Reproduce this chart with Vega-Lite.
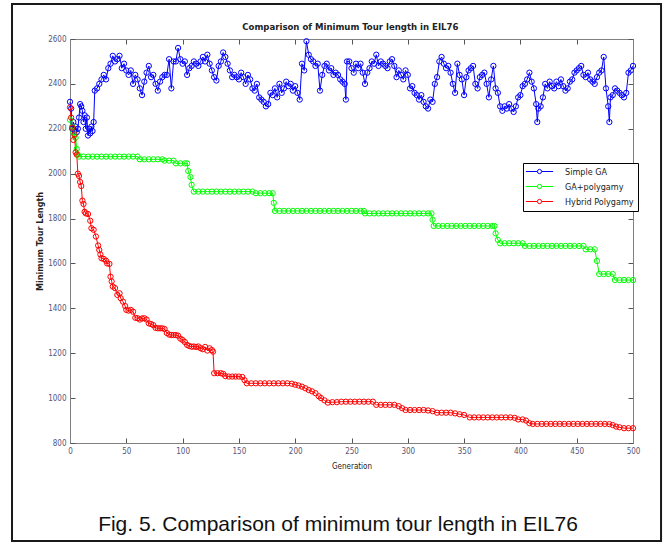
{
"$schema": "https://vega.github.io/schema/vega-lite/v6.json",
"width": 563, "height": 404,
"autosize": {"type": "none"},
"padding": {"left": 70, "top": 39, "right": 32, "bottom": 101},
"background": "white",
"config": {"view": {"stroke": "#808080", "strokeWidth": 1}},
"datasets": {
"tour": [
{"gen":0,"len":2320,"method":"Simple GA"},{"gen":1,"len":2290,"method":"Simple GA"},{"gen":2,"len":2200,"method":"Simple GA"},{"gen":3,"len":2230,"method":"Simple GA"},{"gen":4,"len":2190,"method":"Simple GA"},{"gen":5,"len":2210,"method":"Simple GA"},{"gen":6,"len":2185,"method":"Simple GA"},{"gen":7,"len":2200,"method":"Simple GA"},{"gen":8,"len":2250,"method":"Simple GA"},{"gen":9,"len":2310,"method":"Simple GA"},{"gen":10,"len":2300,"method":"Simple GA"},{"gen":11,"len":2280,"method":"Simple GA"},{"gen":12,"len":2230,"method":"Simple GA"},{"gen":13,"len":2260,"method":"Simple GA"},{"gen":14,"len":2200,"method":"Simple GA"},{"gen":15,"len":2250,"method":"Simple GA"},{"gen":16,"len":2170,"method":"Simple GA"},{"gen":17,"len":2200,"method":"Simple GA"},{"gen":18,"len":2180,"method":"Simple GA"},{"gen":19,"len":2210,"method":"Simple GA"},{"gen":20,"len":2190,"method":"Simple GA"},{"gen":21,"len":2230,"method":"Simple GA"},{"gen":22,"len":2370,"method":"Simple GA"},{"gen":24,"len":2380,"method":"Simple GA"},{"gen":26,"len":2400,"method":"Simple GA"},{"gen":28,"len":2420,"method":"Simple GA"},{"gen":30,"len":2440,"method":"Simple GA"},{"gen":32,"len":2420,"method":"Simple GA"},{"gen":34,"len":2470,"method":"Simple GA"},{"gen":36,"len":2490,"method":"Simple GA"},{"gen":38,"len":2525,"method":"Simple GA"},{"gen":40,"len":2500,"method":"Simple GA"},{"gen":42,"len":2510,"method":"Simple GA"},{"gen":44,"len":2525,"method":"Simple GA"},{"gen":46,"len":2470,"method":"Simple GA"},{"gen":48,"len":2490,"method":"Simple GA"},{"gen":50,"len":2460,"method":"Simple GA"},{"gen":52,"len":2440,"method":"Simple GA"},{"gen":54,"len":2460,"method":"Simple GA"},{"gen":56,"len":2400,"method":"Simple GA"},{"gen":58,"len":2440,"method":"Simple GA"},{"gen":60,"len":2420,"method":"Simple GA"},{"gen":62,"len":2380,"method":"Simple GA"},{"gen":64,"len":2350,"method":"Simple GA"},{"gen":66,"len":2410,"method":"Simple GA"},{"gen":68,"len":2450,"method":"Simple GA"},{"gen":70,"len":2480,"method":"Simple GA"},{"gen":72,"len":2430,"method":"Simple GA"},{"gen":74,"len":2440,"method":"Simple GA"},{"gen":76,"len":2400,"method":"Simple GA"},{"gen":78,"len":2370,"method":"Simple GA"},{"gen":80,"len":2410,"method":"Simple GA"},{"gen":82,"len":2430,"method":"Simple GA"},{"gen":84,"len":2440,"method":"Simple GA"},{"gen":86,"len":2440,"method":"Simple GA"},{"gen":88,"len":2510,"method":"Simple GA"},{"gen":90,"len":2380,"method":"Simple GA"},{"gen":92,"len":2500,"method":"Simple GA"},{"gen":94,"len":2500,"method":"Simple GA"},{"gen":96,"len":2560,"method":"Simple GA"},{"gen":98,"len":2510,"method":"Simple GA"},{"gen":100,"len":2490,"method":"Simple GA"},{"gen":102,"len":2500,"method":"Simple GA"},{"gen":104,"len":2440,"method":"Simple GA"},{"gen":106,"len":2470,"method":"Simple GA"},{"gen":108,"len":2480,"method":"Simple GA"},{"gen":110,"len":2500,"method":"Simple GA"},{"gen":112,"len":2490,"method":"Simple GA"},{"gen":114,"len":2480,"method":"Simple GA"},{"gen":116,"len":2500,"method":"Simple GA"},{"gen":118,"len":2520,"method":"Simple GA"},{"gen":120,"len":2500,"method":"Simple GA"},{"gen":122,"len":2530,"method":"Simple GA"},{"gen":124,"len":2490,"method":"Simple GA"},{"gen":126,"len":2460,"method":"Simple GA"},{"gen":128,"len":2430,"method":"Simple GA"},{"gen":130,"len":2415,"method":"Simple GA"},{"gen":132,"len":2480,"method":"Simple GA"},{"gen":134,"len":2500,"method":"Simple GA"},{"gen":136,"len":2540,"method":"Simple GA"},{"gen":138,"len":2520,"method":"Simple GA"},{"gen":140,"len":2490,"method":"Simple GA"},{"gen":142,"len":2460,"method":"Simple GA"},{"gen":144,"len":2430,"method":"Simple GA"},{"gen":146,"len":2440,"method":"Simple GA"},{"gen":148,"len":2430,"method":"Simple GA"},{"gen":150,"len":2420,"method":"Simple GA"},{"gen":152,"len":2450,"method":"Simple GA"},{"gen":154,"len":2430,"method":"Simple GA"},{"gen":156,"len":2400,"method":"Simple GA"},{"gen":158,"len":2440,"method":"Simple GA"},{"gen":160,"len":2420,"method":"Simple GA"},{"gen":162,"len":2380,"method":"Simple GA"},{"gen":164,"len":2370,"method":"Simple GA"},{"gen":166,"len":2400,"method":"Simple GA"},{"gen":168,"len":2340,"method":"Simple GA"},{"gen":170,"len":2330,"method":"Simple GA"},{"gen":172,"len":2320,"method":"Simple GA"},{"gen":174,"len":2300,"method":"Simple GA"},{"gen":176,"len":2310,"method":"Simple GA"},{"gen":178,"len":2360,"method":"Simple GA"},{"gen":180,"len":2350,"method":"Simple GA"},{"gen":182,"len":2380,"method":"Simple GA"},{"gen":184,"len":2340,"method":"Simple GA"},{"gen":186,"len":2400,"method":"Simple GA"},{"gen":188,"len":2360,"method":"Simple GA"},{"gen":190,"len":2380,"method":"Simple GA"},{"gen":192,"len":2410,"method":"Simple GA"},{"gen":194,"len":2390,"method":"Simple GA"},{"gen":196,"len":2400,"method":"Simple GA"},{"gen":198,"len":2370,"method":"Simple GA"},{"gen":200,"len":2390,"method":"Simple GA"},{"gen":202,"len":2360,"method":"Simple GA"},{"gen":204,"len":2330,"method":"Simple GA"},{"gen":206,"len":2490,"method":"Simple GA"},{"gen":208,"len":2460,"method":"Simple GA"},{"gen":210,"len":2590,"method":"Simple GA"},{"gen":212,"len":2530,"method":"Simple GA"},{"gen":214,"len":2510,"method":"Simple GA"},{"gen":216,"len":2500,"method":"Simple GA"},{"gen":218,"len":2480,"method":"Simple GA"},{"gen":220,"len":2490,"method":"Simple GA"},{"gen":222,"len":2370,"method":"Simple GA"},{"gen":224,"len":2440,"method":"Simple GA"},{"gen":226,"len":2480,"method":"Simple GA"},{"gen":228,"len":2490,"method":"Simple GA"},{"gen":230,"len":2460,"method":"Simple GA"},{"gen":232,"len":2470,"method":"Simple GA"},{"gen":234,"len":2440,"method":"Simple GA"},{"gen":236,"len":2450,"method":"Simple GA"},{"gen":238,"len":2440,"method":"Simple GA"},{"gen":240,"len":2420,"method":"Simple GA"},{"gen":242,"len":2410,"method":"Simple GA"},{"gen":244,"len":2400,"method":"Simple GA"},{"gen":245,"len":2330,"method":"Simple GA"},{"gen":246,"len":2500,"method":"Simple GA"},{"gen":248,"len":2500,"method":"Simple GA"},{"gen":250,"len":2470,"method":"Simple GA"},{"gen":252,"len":2450,"method":"Simple GA"},{"gen":254,"len":2490,"method":"Simple GA"},{"gen":256,"len":2470,"method":"Simple GA"},{"gen":258,"len":2490,"method":"Simple GA"},{"gen":260,"len":2450,"method":"Simple GA"},{"gen":262,"len":2400,"method":"Simple GA"},{"gen":264,"len":2450,"method":"Simple GA"},{"gen":266,"len":2470,"method":"Simple GA"},{"gen":268,"len":2500,"method":"Simple GA"},{"gen":270,"len":2490,"method":"Simple GA"},{"gen":272,"len":2530,"method":"Simple GA"},{"gen":274,"len":2480,"method":"Simple GA"},{"gen":276,"len":2500,"method":"Simple GA"},{"gen":278,"len":2490,"method":"Simple GA"},{"gen":280,"len":2480,"method":"Simple GA"},{"gen":282,"len":2470,"method":"Simple GA"},{"gen":284,"len":2500,"method":"Simple GA"},{"gen":286,"len":2510,"method":"Simple GA"},{"gen":288,"len":2480,"method":"Simple GA"},{"gen":290,"len":2430,"method":"Simple GA"},{"gen":292,"len":2460,"method":"Simple GA"},{"gen":294,"len":2440,"method":"Simple GA"},{"gen":296,"len":2420,"method":"Simple GA"},{"gen":298,"len":2460,"method":"Simple GA"},{"gen":300,"len":2440,"method":"Simple GA"},{"gen":302,"len":2380,"method":"Simple GA"},{"gen":304,"len":2390,"method":"Simple GA"},{"gen":306,"len":2360,"method":"Simple GA"},{"gen":308,"len":2350,"method":"Simple GA"},{"gen":310,"len":2330,"method":"Simple GA"},{"gen":312,"len":2350,"method":"Simple GA"},{"gen":314,"len":2320,"method":"Simple GA"},{"gen":316,"len":2300,"method":"Simple GA"},{"gen":318,"len":2290,"method":"Simple GA"},{"gen":320,"len":2330,"method":"Simple GA"},{"gen":322,"len":2320,"method":"Simple GA"},{"gen":324,"len":2400,"method":"Simple GA"},{"gen":326,"len":2430,"method":"Simple GA"},{"gen":328,"len":2500,"method":"Simple GA"},{"gen":330,"len":2520,"method":"Simple GA"},{"gen":332,"len":2490,"method":"Simple GA"},{"gen":334,"len":2470,"method":"Simple GA"},{"gen":336,"len":2480,"method":"Simple GA"},{"gen":338,"len":2450,"method":"Simple GA"},{"gen":340,"len":2400,"method":"Simple GA"},{"gen":342,"len":2360,"method":"Simple GA"},{"gen":344,"len":2490,"method":"Simple GA"},{"gen":346,"len":2440,"method":"Simple GA"},{"gen":348,"len":2420,"method":"Simple GA"},{"gen":350,"len":2350,"method":"Simple GA"},{"gen":352,"len":2430,"method":"Simple GA"},{"gen":354,"len":2460,"method":"Simple GA"},{"gen":356,"len":2470,"method":"Simple GA"},{"gen":358,"len":2480,"method":"Simple GA"},{"gen":360,"len":2400,"method":"Simple GA"},{"gen":362,"len":2380,"method":"Simple GA"},{"gen":364,"len":2430,"method":"Simple GA"},{"gen":366,"len":2440,"method":"Simple GA"},{"gen":368,"len":2450,"method":"Simple GA"},{"gen":370,"len":2400,"method":"Simple GA"},{"gen":372,"len":2340,"method":"Simple GA"},{"gen":374,"len":2420,"method":"Simple GA"},{"gen":376,"len":2480,"method":"Simple GA"},{"gen":378,"len":2380,"method":"Simple GA"},{"gen":380,"len":2360,"method":"Simple GA"},{"gen":382,"len":2300,"method":"Simple GA"},{"gen":384,"len":2280,"method":"Simple GA"},{"gen":386,"len":2300,"method":"Simple GA"},{"gen":388,"len":2290,"method":"Simple GA"},{"gen":390,"len":2310,"method":"Simple GA"},{"gen":392,"len":2290,"method":"Simple GA"},{"gen":394,"len":2275,"method":"Simple GA"},{"gen":396,"len":2300,"method":"Simple GA"},{"gen":398,"len":2340,"method":"Simple GA"},{"gen":400,"len":2350,"method":"Simple GA"},{"gen":402,"len":2390,"method":"Simple GA"},{"gen":404,"len":2400,"method":"Simple GA"},{"gen":406,"len":2420,"method":"Simple GA"},{"gen":408,"len":2450,"method":"Simple GA"},{"gen":410,"len":2410,"method":"Simple GA"},{"gen":412,"len":2380,"method":"Simple GA"},{"gen":414,"len":2310,"method":"Simple GA"},{"gen":415,"len":2230,"method":"Simple GA"},{"gen":416,"len":2290,"method":"Simple GA"},{"gen":418,"len":2300,"method":"Simple GA"},{"gen":420,"len":2340,"method":"Simple GA"},{"gen":422,"len":2400,"method":"Simple GA"},{"gen":424,"len":2380,"method":"Simple GA"},{"gen":426,"len":2410,"method":"Simple GA"},{"gen":428,"len":2390,"method":"Simple GA"},{"gen":430,"len":2380,"method":"Simple GA"},{"gen":432,"len":2410,"method":"Simple GA"},{"gen":434,"len":2390,"method":"Simple GA"},{"gen":436,"len":2420,"method":"Simple GA"},{"gen":438,"len":2390,"method":"Simple GA"},{"gen":440,"len":2370,"method":"Simple GA"},{"gen":442,"len":2380,"method":"Simple GA"},{"gen":444,"len":2410,"method":"Simple GA"},{"gen":446,"len":2420,"method":"Simple GA"},{"gen":448,"len":2450,"method":"Simple GA"},{"gen":450,"len":2460,"method":"Simple GA"},{"gen":452,"len":2470,"method":"Simple GA"},{"gen":454,"len":2480,"method":"Simple GA"},{"gen":456,"len":2440,"method":"Simple GA"},{"gen":458,"len":2430,"method":"Simple GA"},{"gen":460,"len":2450,"method":"Simple GA"},{"gen":462,"len":2420,"method":"Simple GA"},{"gen":464,"len":2410,"method":"Simple GA"},{"gen":466,"len":2400,"method":"Simple GA"},{"gen":468,"len":2430,"method":"Simple GA"},{"gen":470,"len":2450,"method":"Simple GA"},{"gen":472,"len":2460,"method":"Simple GA"},{"gen":474,"len":2520,"method":"Simple GA"},{"gen":476,"len":2380,"method":"Simple GA"},{"gen":478,"len":2300,"method":"Simple GA"},{"gen":479,"len":2230,"method":"Simple GA"},{"gen":480,"len":2340,"method":"Simple GA"},{"gen":482,"len":2350,"method":"Simple GA"},{"gen":484,"len":2380,"method":"Simple GA"},{"gen":486,"len":2370,"method":"Simple GA"},{"gen":488,"len":2360,"method":"Simple GA"},{"gen":490,"len":2350,"method":"Simple GA"},{"gen":492,"len":2340,"method":"Simple GA"},{"gen":494,"len":2360,"method":"Simple GA"},{"gen":496,"len":2450,"method":"Simple GA"},{"gen":498,"len":2460,"method":"Simple GA"},{"gen":500,"len":2480,"method":"Simple GA"},
{"gen":0,"len":2240,"method":"GA+polygamy"},{"gen":2,"len":2210,"method":"GA+polygamy"},{"gen":3,"len":2185,"method":"GA+polygamy"},{"gen":4,"len":2170,"method":"GA+polygamy"},{"gen":5,"len":2160,"method":"GA+polygamy"},{"gen":6,"len":2110,"method":"GA+polygamy"},{"gen":7,"len":2085,"method":"GA+polygamy"},{"gen":8,"len":2076,"method":"GA+polygamy"},{"gen":12,"len":2076,"method":"GA+polygamy"},{"gen":16,"len":2076,"method":"GA+polygamy"},{"gen":20,"len":2076,"method":"GA+polygamy"},{"gen":24,"len":2076,"method":"GA+polygamy"},{"gen":28,"len":2076,"method":"GA+polygamy"},{"gen":32,"len":2076,"method":"GA+polygamy"},{"gen":36,"len":2076,"method":"GA+polygamy"},{"gen":40,"len":2076,"method":"GA+polygamy"},{"gen":44,"len":2076,"method":"GA+polygamy"},{"gen":48,"len":2076,"method":"GA+polygamy"},{"gen":52,"len":2076,"method":"GA+polygamy"},{"gen":56,"len":2076,"method":"GA+polygamy"},{"gen":60,"len":2076,"method":"GA+polygamy"},{"gen":62,"len":2064,"method":"GA+polygamy"},{"gen":66,"len":2064,"method":"GA+polygamy"},{"gen":70,"len":2064,"method":"GA+polygamy"},{"gen":74,"len":2064,"method":"GA+polygamy"},{"gen":78,"len":2064,"method":"GA+polygamy"},{"gen":82,"len":2064,"method":"GA+polygamy"},{"gen":84,"len":2058,"method":"GA+polygamy"},{"gen":88,"len":2058,"method":"GA+polygamy"},{"gen":92,"len":2058,"method":"GA+polygamy"},{"gen":94,"len":2046,"method":"GA+polygamy"},{"gen":98,"len":2046,"method":"GA+polygamy"},{"gen":102,"len":2046,"method":"GA+polygamy"},{"gen":104,"len":2046,"method":"GA+polygamy"},{"gen":105,"len":2012,"method":"GA+polygamy"},{"gen":107,"len":1985,"method":"GA+polygamy"},{"gen":108,"len":1950,"method":"GA+polygamy"},{"gen":110,"len":1920,"method":"GA+polygamy"},{"gen":114,"len":1920,"method":"GA+polygamy"},{"gen":118,"len":1920,"method":"GA+polygamy"},{"gen":122,"len":1920,"method":"GA+polygamy"},{"gen":126,"len":1920,"method":"GA+polygamy"},{"gen":130,"len":1920,"method":"GA+polygamy"},{"gen":134,"len":1920,"method":"GA+polygamy"},{"gen":138,"len":1920,"method":"GA+polygamy"},{"gen":142,"len":1920,"method":"GA+polygamy"},{"gen":146,"len":1920,"method":"GA+polygamy"},{"gen":150,"len":1920,"method":"GA+polygamy"},{"gen":154,"len":1920,"method":"GA+polygamy"},{"gen":158,"len":1920,"method":"GA+polygamy"},{"gen":162,"len":1920,"method":"GA+polygamy"},{"gen":165,"len":1913,"method":"GA+polygamy"},{"gen":169,"len":1913,"method":"GA+polygamy"},{"gen":173,"len":1913,"method":"GA+polygamy"},{"gen":177,"len":1913,"method":"GA+polygamy"},{"gen":180,"len":1913,"method":"GA+polygamy"},{"gen":181,"len":1870,"method":"GA+polygamy"},{"gen":182,"len":1834,"method":"GA+polygamy"},{"gen":186,"len":1834,"method":"GA+polygamy"},{"gen":190,"len":1834,"method":"GA+polygamy"},{"gen":194,"len":1834,"method":"GA+polygamy"},{"gen":198,"len":1834,"method":"GA+polygamy"},{"gen":202,"len":1834,"method":"GA+polygamy"},{"gen":206,"len":1834,"method":"GA+polygamy"},{"gen":210,"len":1834,"method":"GA+polygamy"},{"gen":214,"len":1834,"method":"GA+polygamy"},{"gen":218,"len":1834,"method":"GA+polygamy"},{"gen":222,"len":1834,"method":"GA+polygamy"},{"gen":226,"len":1834,"method":"GA+polygamy"},{"gen":230,"len":1834,"method":"GA+polygamy"},{"gen":234,"len":1834,"method":"GA+polygamy"},{"gen":238,"len":1834,"method":"GA+polygamy"},{"gen":242,"len":1834,"method":"GA+polygamy"},{"gen":246,"len":1834,"method":"GA+polygamy"},{"gen":250,"len":1834,"method":"GA+polygamy"},{"gen":254,"len":1834,"method":"GA+polygamy"},{"gen":258,"len":1834,"method":"GA+polygamy"},{"gen":261,"len":1834,"method":"GA+polygamy"},{"gen":262,"len":1823,"method":"GA+polygamy"},{"gen":266,"len":1823,"method":"GA+polygamy"},{"gen":270,"len":1823,"method":"GA+polygamy"},{"gen":274,"len":1823,"method":"GA+polygamy"},{"gen":278,"len":1823,"method":"GA+polygamy"},{"gen":282,"len":1823,"method":"GA+polygamy"},{"gen":286,"len":1823,"method":"GA+polygamy"},{"gen":290,"len":1823,"method":"GA+polygamy"},{"gen":294,"len":1823,"method":"GA+polygamy"},{"gen":298,"len":1823,"method":"GA+polygamy"},{"gen":302,"len":1823,"method":"GA+polygamy"},{"gen":306,"len":1823,"method":"GA+polygamy"},{"gen":310,"len":1823,"method":"GA+polygamy"},{"gen":314,"len":1823,"method":"GA+polygamy"},{"gen":318,"len":1823,"method":"GA+polygamy"},{"gen":321,"len":1823,"method":"GA+polygamy"},{"gen":322,"len":1795,"method":"GA+polygamy"},{"gen":323,"len":1767,"method":"GA+polygamy"},{"gen":327,"len":1767,"method":"GA+polygamy"},{"gen":331,"len":1767,"method":"GA+polygamy"},{"gen":335,"len":1767,"method":"GA+polygamy"},{"gen":339,"len":1767,"method":"GA+polygamy"},{"gen":343,"len":1767,"method":"GA+polygamy"},{"gen":347,"len":1767,"method":"GA+polygamy"},{"gen":351,"len":1767,"method":"GA+polygamy"},{"gen":355,"len":1767,"method":"GA+polygamy"},{"gen":359,"len":1767,"method":"GA+polygamy"},{"gen":363,"len":1767,"method":"GA+polygamy"},{"gen":367,"len":1767,"method":"GA+polygamy"},{"gen":371,"len":1767,"method":"GA+polygamy"},{"gen":375,"len":1767,"method":"GA+polygamy"},{"gen":377,"len":1767,"method":"GA+polygamy"},{"gen":378,"len":1734,"method":"GA+polygamy"},{"gen":380,"len":1705,"method":"GA+polygamy"},{"gen":382,"len":1690,"method":"GA+polygamy"},{"gen":386,"len":1690,"method":"GA+polygamy"},{"gen":390,"len":1690,"method":"GA+polygamy"},{"gen":394,"len":1690,"method":"GA+polygamy"},{"gen":398,"len":1690,"method":"GA+polygamy"},{"gen":402,"len":1690,"method":"GA+polygamy"},{"gen":404,"len":1678,"method":"GA+polygamy"},{"gen":408,"len":1678,"method":"GA+polygamy"},{"gen":412,"len":1678,"method":"GA+polygamy"},{"gen":416,"len":1678,"method":"GA+polygamy"},{"gen":420,"len":1678,"method":"GA+polygamy"},{"gen":424,"len":1678,"method":"GA+polygamy"},{"gen":428,"len":1678,"method":"GA+polygamy"},{"gen":432,"len":1678,"method":"GA+polygamy"},{"gen":436,"len":1678,"method":"GA+polygamy"},{"gen":440,"len":1678,"method":"GA+polygamy"},{"gen":444,"len":1678,"method":"GA+polygamy"},{"gen":448,"len":1678,"method":"GA+polygamy"},{"gen":452,"len":1678,"method":"GA+polygamy"},{"gen":456,"len":1678,"method":"GA+polygamy"},{"gen":458,"len":1663,"method":"GA+polygamy"},{"gen":462,"len":1663,"method":"GA+polygamy"},{"gen":466,"len":1663,"method":"GA+polygamy"},{"gen":468,"len":1611,"method":"GA+polygamy"},{"gen":470,"len":1553,"method":"GA+polygamy"},{"gen":474,"len":1553,"method":"GA+polygamy"},{"gen":478,"len":1553,"method":"GA+polygamy"},{"gen":482,"len":1553,"method":"GA+polygamy"},{"gen":484,"len":1526,"method":"GA+polygamy"},{"gen":488,"len":1526,"method":"GA+polygamy"},{"gen":492,"len":1526,"method":"GA+polygamy"},{"gen":496,"len":1526,"method":"GA+polygamy"},{"gen":500,"len":1526,"method":"GA+polygamy"},
{"gen":0,"len":2295,"method":"Hybrid Polygamy"},{"gen":1,"len":2250,"method":"Hybrid Polygamy"},{"gen":2,"len":2205,"method":"Hybrid Polygamy"},{"gen":3,"len":2150,"method":"Hybrid Polygamy"},{"gen":4,"len":2175,"method":"Hybrid Polygamy"},{"gen":5,"len":2095,"method":"Hybrid Polygamy"},{"gen":6,"len":2085,"method":"Hybrid Polygamy"},{"gen":7,"len":2000,"method":"Hybrid Polygamy"},{"gen":8,"len":1990,"method":"Hybrid Polygamy"},{"gen":9,"len":1963,"method":"Hybrid Polygamy"},{"gen":10,"len":1945,"method":"Hybrid Polygamy"},{"gen":11,"len":1880,"method":"Hybrid Polygamy"},{"gen":12,"len":1865,"method":"Hybrid Polygamy"},{"gen":13,"len":1830,"method":"Hybrid Polygamy"},{"gen":14,"len":1823,"method":"Hybrid Polygamy"},{"gen":16,"len":1820,"method":"Hybrid Polygamy"},{"gen":18,"len":1790,"method":"Hybrid Polygamy"},{"gen":19,"len":1757,"method":"Hybrid Polygamy"},{"gen":21,"len":1750,"method":"Hybrid Polygamy"},{"gen":23,"len":1720,"method":"Hybrid Polygamy"},{"gen":25,"len":1680,"method":"Hybrid Polygamy"},{"gen":26,"len":1660,"method":"Hybrid Polygamy"},{"gen":27,"len":1640,"method":"Hybrid Polygamy"},{"gen":28,"len":1623,"method":"Hybrid Polygamy"},{"gen":30,"len":1620,"method":"Hybrid Polygamy"},{"gen":32,"len":1612,"method":"Hybrid Polygamy"},{"gen":33,"len":1600,"method":"Hybrid Polygamy"},{"gen":35,"len":1598,"method":"Hybrid Polygamy"},{"gen":36,"len":1541,"method":"Hybrid Polygamy"},{"gen":37,"len":1520,"method":"Hybrid Polygamy"},{"gen":38,"len":1497,"method":"Hybrid Polygamy"},{"gen":40,"len":1490,"method":"Hybrid Polygamy"},{"gen":42,"len":1460,"method":"Hybrid Polygamy"},{"gen":44,"len":1467,"method":"Hybrid Polygamy"},{"gen":45,"len":1445,"method":"Hybrid Polygamy"},{"gen":47,"len":1430,"method":"Hybrid Polygamy"},{"gen":49,"len":1410,"method":"Hybrid Polygamy"},{"gen":50,"len":1393,"method":"Hybrid Polygamy"},{"gen":52,"len":1390,"method":"Hybrid Polygamy"},{"gen":54,"len":1393,"method":"Hybrid Polygamy"},{"gen":56,"len":1385,"method":"Hybrid Polygamy"},{"gen":58,"len":1358,"method":"Hybrid Polygamy"},{"gen":60,"len":1356,"method":"Hybrid Polygamy"},{"gen":62,"len":1350,"method":"Hybrid Polygamy"},{"gen":64,"len":1355,"method":"Hybrid Polygamy"},{"gen":66,"len":1356,"method":"Hybrid Polygamy"},{"gen":68,"len":1350,"method":"Hybrid Polygamy"},{"gen":70,"len":1333,"method":"Hybrid Polygamy"},{"gen":72,"len":1330,"method":"Hybrid Polygamy"},{"gen":74,"len":1325,"method":"Hybrid Polygamy"},{"gen":76,"len":1313,"method":"Hybrid Polygamy"},{"gen":78,"len":1311,"method":"Hybrid Polygamy"},{"gen":80,"len":1311,"method":"Hybrid Polygamy"},{"gen":82,"len":1311,"method":"Hybrid Polygamy"},{"gen":84,"len":1308,"method":"Hybrid Polygamy"},{"gen":86,"len":1290,"method":"Hybrid Polygamy"},{"gen":88,"len":1283,"method":"Hybrid Polygamy"},{"gen":90,"len":1281,"method":"Hybrid Polygamy"},{"gen":92,"len":1281,"method":"Hybrid Polygamy"},{"gen":94,"len":1281,"method":"Hybrid Polygamy"},{"gen":96,"len":1278,"method":"Hybrid Polygamy"},{"gen":98,"len":1265,"method":"Hybrid Polygamy"},{"gen":100,"len":1259,"method":"Hybrid Polygamy"},{"gen":102,"len":1250,"method":"Hybrid Polygamy"},{"gen":104,"len":1237,"method":"Hybrid Polygamy"},{"gen":106,"len":1232,"method":"Hybrid Polygamy"},{"gen":108,"len":1229,"method":"Hybrid Polygamy"},{"gen":110,"len":1230,"method":"Hybrid Polygamy"},{"gen":112,"len":1228,"method":"Hybrid Polygamy"},{"gen":114,"len":1230,"method":"Hybrid Polygamy"},{"gen":116,"len":1222,"method":"Hybrid Polygamy"},{"gen":118,"len":1218,"method":"Hybrid Polygamy"},{"gen":120,"len":1228,"method":"Hybrid Polygamy"},{"gen":122,"len":1212,"method":"Hybrid Polygamy"},{"gen":124,"len":1222,"method":"Hybrid Polygamy"},{"gen":126,"len":1214,"method":"Hybrid Polygamy"},{"gen":127,"len":1207,"method":"Hybrid Polygamy"},{"gen":128,"len":1111,"method":"Hybrid Polygamy"},{"gen":131,"len":1111,"method":"Hybrid Polygamy"},{"gen":134,"len":1111,"method":"Hybrid Polygamy"},{"gen":136,"len":1108,"method":"Hybrid Polygamy"},{"gen":138,"len":1098,"method":"Hybrid Polygamy"},{"gen":141,"len":1096,"method":"Hybrid Polygamy"},{"gen":144,"len":1096,"method":"Hybrid Polygamy"},{"gen":147,"len":1096,"method":"Hybrid Polygamy"},{"gen":150,"len":1096,"method":"Hybrid Polygamy"},{"gen":153,"len":1094,"method":"Hybrid Polygamy"},{"gen":155,"len":1080,"method":"Hybrid Polygamy"},{"gen":157,"len":1066,"method":"Hybrid Polygamy"},{"gen":161,"len":1066,"method":"Hybrid Polygamy"},{"gen":165,"len":1066,"method":"Hybrid Polygamy"},{"gen":169,"len":1066,"method":"Hybrid Polygamy"},{"gen":173,"len":1066,"method":"Hybrid Polygamy"},{"gen":177,"len":1066,"method":"Hybrid Polygamy"},{"gen":181,"len":1066,"method":"Hybrid Polygamy"},{"gen":185,"len":1066,"method":"Hybrid Polygamy"},{"gen":189,"len":1066,"method":"Hybrid Polygamy"},{"gen":193,"len":1066,"method":"Hybrid Polygamy"},{"gen":197,"len":1064,"method":"Hybrid Polygamy"},{"gen":200,"len":1060,"method":"Hybrid Polygamy"},{"gen":203,"len":1056,"method":"Hybrid Polygamy"},{"gen":206,"len":1051,"method":"Hybrid Polygamy"},{"gen":209,"len":1044,"method":"Hybrid Polygamy"},{"gen":212,"len":1036,"method":"Hybrid Polygamy"},{"gen":215,"len":1030,"method":"Hybrid Polygamy"},{"gen":218,"len":1022,"method":"Hybrid Polygamy"},{"gen":221,"len":1008,"method":"Hybrid Polygamy"},{"gen":223,"len":1000,"method":"Hybrid Polygamy"},{"gen":226,"len":990,"method":"Hybrid Polygamy"},{"gen":229,"len":980,"method":"Hybrid Polygamy"},{"gen":233,"len":982,"method":"Hybrid Polygamy"},{"gen":237,"len":982,"method":"Hybrid Polygamy"},{"gen":241,"len":984,"method":"Hybrid Polygamy"},{"gen":245,"len":984,"method":"Hybrid Polygamy"},{"gen":249,"len":984,"method":"Hybrid Polygamy"},{"gen":253,"len":984,"method":"Hybrid Polygamy"},{"gen":257,"len":984,"method":"Hybrid Polygamy"},{"gen":261,"len":984,"method":"Hybrid Polygamy"},{"gen":265,"len":984,"method":"Hybrid Polygamy"},{"gen":269,"len":984,"method":"Hybrid Polygamy"},{"gen":272,"len":970,"method":"Hybrid Polygamy"},{"gen":276,"len":970,"method":"Hybrid Polygamy"},{"gen":280,"len":970,"method":"Hybrid Polygamy"},{"gen":284,"len":970,"method":"Hybrid Polygamy"},{"gen":288,"len":970,"method":"Hybrid Polygamy"},{"gen":292,"len":964,"method":"Hybrid Polygamy"},{"gen":295,"len":955,"method":"Hybrid Polygamy"},{"gen":298,"len":947,"method":"Hybrid Polygamy"},{"gen":302,"len":947,"method":"Hybrid Polygamy"},{"gen":306,"len":947,"method":"Hybrid Polygamy"},{"gen":310,"len":947,"method":"Hybrid Polygamy"},{"gen":314,"len":947,"method":"Hybrid Polygamy"},{"gen":318,"len":945,"method":"Hybrid Polygamy"},{"gen":322,"len":942,"method":"Hybrid Polygamy"},{"gen":326,"len":935,"method":"Hybrid Polygamy"},{"gen":330,"len":935,"method":"Hybrid Polygamy"},{"gen":334,"len":935,"method":"Hybrid Polygamy"},{"gen":338,"len":935,"method":"Hybrid Polygamy"},{"gen":342,"len":932,"method":"Hybrid Polygamy"},{"gen":346,"len":928,"method":"Hybrid Polygamy"},{"gen":350,"len":925,"method":"Hybrid Polygamy"},{"gen":355,"len":914,"method":"Hybrid Polygamy"},{"gen":359,"len":914,"method":"Hybrid Polygamy"},{"gen":363,"len":914,"method":"Hybrid Polygamy"},{"gen":367,"len":914,"method":"Hybrid Polygamy"},{"gen":371,"len":914,"method":"Hybrid Polygamy"},{"gen":375,"len":914,"method":"Hybrid Polygamy"},{"gen":379,"len":914,"method":"Hybrid Polygamy"},{"gen":383,"len":914,"method":"Hybrid Polygamy"},{"gen":387,"len":914,"method":"Hybrid Polygamy"},{"gen":391,"len":914,"method":"Hybrid Polygamy"},{"gen":395,"len":912,"method":"Hybrid Polygamy"},{"gen":398,"len":905,"method":"Hybrid Polygamy"},{"gen":402,"len":905,"method":"Hybrid Polygamy"},{"gen":405,"len":900,"method":"Hybrid Polygamy"},{"gen":408,"len":888,"method":"Hybrid Polygamy"},{"gen":411,"len":885,"method":"Hybrid Polygamy"},{"gen":415,"len":885,"method":"Hybrid Polygamy"},{"gen":419,"len":885,"method":"Hybrid Polygamy"},{"gen":423,"len":885,"method":"Hybrid Polygamy"},{"gen":427,"len":885,"method":"Hybrid Polygamy"},{"gen":431,"len":885,"method":"Hybrid Polygamy"},{"gen":435,"len":885,"method":"Hybrid Polygamy"},{"gen":439,"len":885,"method":"Hybrid Polygamy"},{"gen":443,"len":885,"method":"Hybrid Polygamy"},{"gen":447,"len":885,"method":"Hybrid Polygamy"},{"gen":451,"len":885,"method":"Hybrid Polygamy"},{"gen":455,"len":885,"method":"Hybrid Polygamy"},{"gen":459,"len":885,"method":"Hybrid Polygamy"},{"gen":463,"len":885,"method":"Hybrid Polygamy"},{"gen":467,"len":885,"method":"Hybrid Polygamy"},{"gen":471,"len":885,"method":"Hybrid Polygamy"},{"gen":475,"len":885,"method":"Hybrid Polygamy"},{"gen":479,"len":884,"method":"Hybrid Polygamy"},{"gen":482,"len":880,"method":"Hybrid Polygamy"},{"gen":485,"len":873,"method":"Hybrid Polygamy"},{"gen":488,"len":870,"method":"Hybrid Polygamy"},{"gen":492,"len":866,"method":"Hybrid Polygamy"},{"gen":496,"len":866,"method":"Hybrid Polygamy"},{"gen":500,"len":866,"method":"Hybrid Polygamy"}
],
"caption": [{"text": "Fig. 5. Comparison of minimum tour length in EIL76"}],
"heading": [{"text": "Comparison of Minimum Tour length in EIL76"}]
},
"layer": [
{
"data": {"name": "tour"},
"mark": {"type": "line", "strokeWidth": 1},
"encoding": {
"x": {"field": "gen", "type": "quantitative", "scale": {"domain": [0, 500], "nice": false, "zero": false},
 "axis": {"orient": "bottom", "values": [0,50,100,150,200,250,300,350,400,450,500], "format": "d", "grid": false, "tickSize": -5, "tickColor": "#555555", "domainColor": "#808080", "labelFont": "Liberation Sans Narrow, DejaVu Sans Condensed, sans-serif", "labelFontSize": 8, "labelColor": "#55557a", "labelPadding": 9, "labelFlush": false, "title": "Generation", "titleFont": "Liberation Sans Narrow, DejaVu Sans Condensed, sans-serif", "titleFontSize": 8, "titleFontWeight": "normal", "titleColor": "#222222", "titlePadding": 7}},
"y": {"field": "len", "type": "quantitative", "scale": {"domain": [800, 2600], "nice": false, "zero": false},
 "axis": {"orient": "left", "values": [800,1000,1200,1400,1600,1800,2000,2200,2400,2600], "format": "d", "grid": false, "tickSize": -5, "tickColor": "#555555", "domainColor": "#808080", "labelFont": "Liberation Sans Narrow, DejaVu Sans Condensed, sans-serif", "labelFontSize": 8, "labelColor": "#55557a", "labelPadding": 9, "labelFlush": false, "title": "Minimum Tour Length", "titleFont": "Liberation Sans Narrow, DejaVu Sans Condensed, sans-serif", "titleFontSize": 9, "titleFontWeight": "bold", "titleColor": "#222222", "titlePadding": 3}},
"color": {"field": "method", "type": "nominal", "scale": {"domain": ["Simple GA", "GA+polygamy", "Hybrid Polygamy"], "range": ["#0000ff", "#00ff00", "#ff0000"]},
 "legend": {"orient": "none", "legendX": 453, "legendY": 124, "title": null, "strokeColor": "#000000", "fillColor": "#ffffff", "padding": 4, "symbolType": "M-3.4,0L-0.55,0M0.55,0L3.4,0M0.55,0L0.39,0.39L0,0.55L-0.39,0.39L-0.55,0L-0.39,-0.39L0,-0.55L0.39,-0.39Z", "symbolSize": 64, "symbolStrokeWidth": 1, "symbolOffset": 8, "labelOffset": 21, "rowPadding": 5, "labelFont": "Liberation Sans Narrow, DejaVu Sans Condensed, sans-serif", "labelFontSize": 9, "labelColor": "#222222",
 "symbolStrokeColor": {"expr": "scale('color', datum.value)"}, "symbolFillColor": "transparent"}}
}
},
{
"data": {"name": "tour"},
"mark": {"type": "point", "shape": "circle", "filled": false, "size": 28, "strokeWidth": 1, "opacity": 1},
"encoding": {
"x": {"field": "gen", "type": "quantitative", "scale": {"domain": [0, 500], "nice": false, "zero": false},
 "axis": {"orient": "top", "values": [0,50,100,150,200,250,300,350,400,450,500], "grid": false, "labels": false, "title": null, "tickSize": -5, "tickColor": "#555555", "domainColor": "#808080"}},
"y": {"field": "len", "type": "quantitative", "scale": {"domain": [800, 2600], "nice": false, "zero": false},
 "axis": {"orient": "right", "values": [800,1000,1200,1400,1600,1800,2000,2200,2400,2600], "grid": false, "labels": false, "title": null, "tickSize": -5, "tickColor": "#555555", "domainColor": "#808080"}},
"color": {"field": "method", "type": "nominal", "scale": {"domain": ["Simple GA", "GA+polygamy", "Hybrid Polygamy"], "range": ["#0000ff", "#00ff00", "#ff0000"]}, "legend": null}
}
},
{
"data": {"name": "caption"},
"mark": {"type": "rect", "fillOpacity": 0, "stroke": "#1a1a1a", "strokeWidth": 2},
"encoding": {
"x": {"datum": -51.5, "type": "quantitative", "scale": {"domain": [0, 500], "nice": false, "zero": false}, "axis": null},
"x2": {"datum": 524.9},
"y": {"datum": 2756, "type": "quantitative", "scale": {"domain": [800, 2600], "nice": false, "zero": false}, "axis": null},
"y2": {"datum": 363}
}
},
{
"data": {"name": "caption"},
"mark": {"type": "text", "font": "Liberation Sans, Arial, sans-serif", "fontSize": 21, "align": "center", "baseline": "alphabetic", "color": "#111111"},
"encoding": {
"x": {"datum": 238, "type": "quantitative", "scale": {"domain": [0, 500], "nice": false, "zero": false}, "axis": null},
"y": {"datum": 408, "type": "quantitative", "scale": {"domain": [800, 2600], "nice": false, "zero": false}, "axis": null},
"text": {"field": "text", "type": "nominal"}
}
},
{
"data": {"name": "heading"},
"mark": {"type": "text", "font": "Liberation Sans Narrow, DejaVu Sans Condensed, sans-serif", "fontSize": 9.5, "fontWeight": "bold", "align": "center", "baseline": "alphabetic", "color": "#222222"},
"encoding": {
"x": {"datum": 249, "type": "quantitative", "scale": {"domain": [0, 500], "nice": false, "zero": false}, "axis": null},
"y": {"datum": 2640, "type": "quantitative", "scale": {"domain": [800, 2600], "nice": false, "zero": false}, "axis": null},
"text": {"field": "text", "type": "nominal"}
}
}
],
"resolve": {"axis": {"x": "independent", "y": "independent"}}
}
